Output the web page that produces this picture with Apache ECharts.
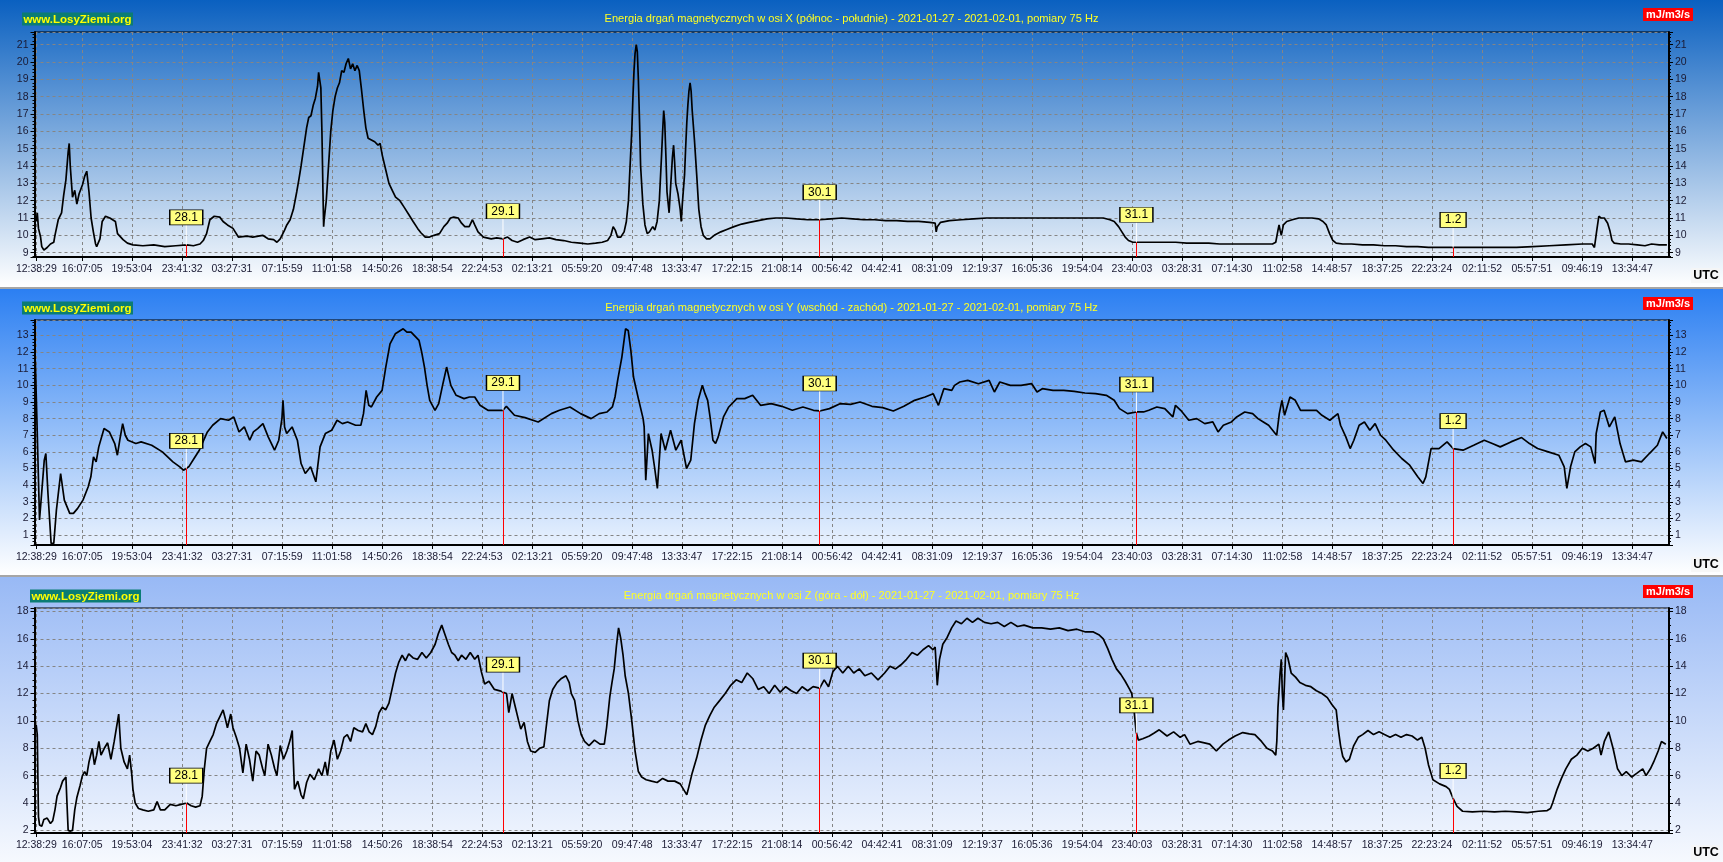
<!DOCTYPE html>
<html><head><meta charset="utf-8">
<script src="https://cdn.jsdelivr.net/npm/echarts@6/dist/echarts.min.js"></script>
<style>html,body{margin:0;padding:0;background:#fff;overflow:hidden}#c{width:1723px;height:862px}</style>
</head><body><div id="c"></div>
<script>
// ---------------- DATA ----------------
const timeLabels = ['12:38:29','16:07:05','19:53:04','23:41:32','03:27:31','07:15:59','11:01:58','14:50:26','18:38:54','22:24:53','02:13:21','05:59:20','09:47:48','13:33:47','17:22:15','21:08:14','00:56:42','04:42:41','08:31:09','12:19:37','16:05:36','19:54:04','23:40:03','03:28:31','07:14:30','11:02:58','14:48:57','18:37:25','22:23:24','02:11:52','05:57:51','09:46:19','13:34:47'];
const dayTimes = [24, 48, 72, 96, 120];           // hours since 2021-01-27 00:00 UTC
const dayLabels = ['28.1', '29.1', '30.1', '31.1', '1.2'];
const titles = [
  'Energia drgań magnetycznych w osi X (północ - południe) - 2021-01-27 - 2021-02-01, pomiary 75 Hz',
  'Energia drgań magnetycznych w osi Y (wschód - zachód) - 2021-01-27 - 2021-02-01, pomiary 75 Hz',
  'Energia drgań magnetycznych w osi Z (góra - dół) - 2021-01-27 - 2021-02-01, pomiary 75 Hz'
];
const siteLabel = 'www.LosyZiemi.org';
const unitLabel = 'mJ/m3/s';
const yMinArr = [8.75, 0.4, 1.81];
const yMaxArr = [21.73, 13.93, 18.25];
const yStepArr = [1, 1, 2];
const xMin = 12.5, xMax = 136.36;

// [hour since 27.01 00:00, value]
const seriesX = [[12.63,10.8],[12.71,11.3],[12.80,10.4],[12.96,9.9],[13.05,9.35],[13.21,9.15],[13.46,9.3],[13.71,9.5],[13.96,9.6],[14.05,10.0],[14.30,10.9],[14.55,11.3],[14.71,12.3],[14.88,13.2],[15.05,14.8],[15.13,15.3],[15.21,14.0],[15.38,12.2],[15.55,12.6],[15.71,11.8],[15.88,12.4],[16.13,12.9],[16.30,13.4],[16.46,13.7],[16.63,12.5],[16.79,11.0],[16.96,10.2],[17.13,9.5],[17.21,9.35],[17.46,9.8],[17.63,10.8],[17.88,11.1],[18.21,11.0],[18.63,10.8],[18.79,10.1],[19.21,9.75],[19.54,9.55],[19.96,9.45],[20.71,9.4],[21.54,9.45],[22.37,9.35],[23.21,9.4],[24.04,9.45],[24.54,9.4],[25.04,9.5],[25.29,9.7],[25.54,10.1],[25.79,10.9],[26.12,11.1],[26.54,11.05],[26.79,10.8],[27.12,10.6],[27.54,10.4],[27.95,9.9],[28.62,9.95],[29.04,9.9],[29.79,10.0],[30.20,9.8],[30.62,9.75],[30.87,9.6],[31.12,9.8],[31.45,10.3],[31.62,10.6],[31.87,10.9],[32.12,11.5],[32.37,12.5],[32.53,13.2],[32.70,14.0],[32.95,15.3],[33.12,16.2],[33.28,16.8],[33.45,16.9],[33.62,17.5],[33.78,17.9],[33.95,18.6],[34.03,19.4],[34.12,19.5],[34.20,18.5],[34.28,16.0],[34.36,12.5],[34.41,10.5],[34.45,10.9],[34.61,12.0],[34.78,14.0],[34.95,16.0],[35.11,17.2],[35.28,18.0],[35.45,18.5],[35.61,18.8],[35.78,19.5],[35.95,19.4],[36.11,19.9],[36.28,20.2],[36.45,19.6],[36.61,19.9],[36.78,19.5],[36.95,19.8],[37.11,19.5],[37.28,18.4],[37.45,17.2],[37.61,16.2],[37.78,15.6],[38.03,15.5],[38.28,15.4],[38.53,15.2],[38.69,15.3],[38.86,14.6],[39.11,13.8],[39.36,13.0],[39.61,12.6],[39.86,12.2],[40.19,12.0],[40.53,11.6],[40.86,11.2],[41.19,10.8],[41.53,10.4],[41.78,10.15],[42.11,9.9],[42.44,9.9],[42.78,10.0],[43.19,10.1],[43.52,10.5],[43.77,10.7],[44.02,11.0],[44.27,11.05],[44.61,11.0],[44.86,10.7],[45.11,10.5],[45.44,10.5],[45.69,10.9],[45.86,10.6],[46.11,10.2],[46.52,9.9],[47.11,9.8],[47.52,9.85],[48.02,9.8],[48.35,9.9],[48.69,9.7],[49.10,9.6],[49.52,9.75],[50.02,9.9],[50.44,9.75],[50.94,9.8],[51.52,9.85],[52.02,9.75],[52.60,9.7],[53.18,9.6],[53.85,9.55],[54.43,9.5],[55.02,9.55],[55.52,9.6],[55.93,9.7],[56.18,10.0],[56.35,10.5],[56.51,10.3],[56.68,9.9],[56.93,9.9],[57.18,10.2],[57.35,10.8],[57.51,12.0],[57.60,13.5],[57.76,16.0],[57.85,18.0],[57.93,19.5],[58.01,20.5],[58.10,21.0],[58.18,20.6],[58.26,19.0],[58.35,16.5],[58.43,14.0],[58.60,11.8],[58.76,10.6],[58.93,10.1],[59.10,10.2],[59.35,10.5],[59.51,10.3],[59.68,10.8],[59.85,12.0],[60.01,14.5],[60.10,16.0],[60.18,17.2],[60.26,16.5],[60.35,14.5],[60.43,12.5],[60.59,11.3],[60.68,12.5],[60.84,14.5],[60.93,15.2],[61.01,14.2],[61.09,13.0],[61.26,12.4],[61.43,11.5],[61.51,10.8],[61.59,11.8],[61.76,13.5],[61.84,15.0],[61.93,16.5],[62.01,17.5],[62.09,18.3],[62.18,18.8],[62.26,18.3],[62.34,17.2],[62.51,15.5],[62.68,13.5],[62.84,11.5],[63.01,10.5],[63.18,10.0],[63.43,9.8],[63.68,9.8],[64.01,10.0],[64.51,10.2],[65.01,10.35],[65.51,10.5],[66.09,10.65],[66.67,10.75],[67.34,10.85],[68.01,10.95],[68.67,11.0],[69.42,11.0],[70.25,10.95],[71.09,10.9],[72.00,10.9],[72.84,10.95],[73.67,11.0],[74.50,10.95],[75.33,10.9],[76.17,10.9],[77.00,10.85],[77.83,10.85],[78.66,10.8],[79.50,10.8],[80.33,10.75],[80.75,10.7],[80.83,10.2],[80.91,10.5],[81.16,10.75],[81.83,10.85],[82.74,10.9],[83.66,10.95],[84.66,11.0],[85.66,11.0],[86.66,11.0],[87.66,11.0],[88.66,11.0],[89.66,11.0],[90.66,11.0],[91.65,11.0],[92.65,11.0],[93.49,11.0],[93.99,10.9],[94.32,10.8],[94.65,10.5],[94.90,10.2],[95.15,9.9],[95.40,9.7],[95.73,9.6],[96.48,9.6],[97.32,9.6],[98.15,9.6],[98.98,9.6],[99.81,9.55],[100.65,9.55],[101.48,9.55],[102.31,9.5],[103.15,9.5],[103.98,9.5],[104.81,9.5],[105.64,9.5],[106.31,9.5],[106.56,9.6],[106.73,10.3],[106.81,10.6],[106.89,10.3],[106.98,10.0],[107.14,10.6],[107.39,10.8],[107.81,10.9],[108.31,11.0],[108.81,11.0],[109.31,11.0],[109.81,10.95],[110.14,10.8],[110.39,10.6],[110.64,10.1],[110.89,9.7],[111.14,9.55],[111.64,9.5],[112.31,9.5],[113.14,9.45],[113.97,9.45],[114.80,9.4],[115.64,9.4],[116.47,9.35],[117.30,9.35],[118.13,9.3],[118.97,9.3],[119.97,9.3],[121.05,9.3],[122.30,9.3],[123.55,9.3],[124.80,9.3],[126.04,9.35],[127.29,9.4],[128.54,9.45],[129.79,9.5],[130.54,9.5],[130.71,9.3],[130.87,10.2],[131.04,11.1],[131.21,11.0],[131.46,11.0],[131.71,10.7],[131.87,10.3],[132.04,9.7],[132.21,9.55],[132.71,9.5],[133.29,9.5],[133.96,9.45],[134.54,9.4],[135.04,9.5],[135.62,9.45],[136.20,9.45]];

const seriesY = [[12.56,11.5],[12.68,8.0],[12.88,1.9],[13.04,3.5],[13.24,5.5],[13.36,5.9],[13.52,3.5],[13.76,0.5],[13.96,0.5],[14.16,2.5],[14.48,4.7],[14.76,3.1],[15.17,2.3],[15.45,2.3],[15.77,2.6],[16.17,3.1],[16.57,3.9],[16.77,4.5],[16.97,5.7],[17.17,5.4],[17.37,6.3],[17.77,7.4],[18.17,7.2],[18.58,6.5],[18.78,5.8],[18.98,6.8],[19.18,7.7],[19.38,7.0],[19.58,6.7],[20.18,6.5],[20.58,6.6],[21.38,6.4],[22.19,6.0],[22.99,5.4],[23.51,5.1],[23.79,4.9],[24.19,5.1],[24.59,5.6],[24.99,6.1],[25.60,7.2],[26.00,7.6],[26.60,8.0],[27.20,7.9],[27.60,8.1],[28.00,7.2],[28.40,7.5],[28.81,6.7],[29.09,7.2],[29.41,7.4],[29.81,7.7],[30.21,6.9],[30.69,6.1],[31.01,6.7],[31.25,8.0],[31.33,9.1],[31.45,7.5],[31.61,7.1],[32.02,7.5],[32.42,6.7],[32.70,5.3],[33.02,4.7],[33.42,5.1],[33.82,4.2],[34.14,6.3],[34.54,7.1],[35.02,7.3],[35.43,7.9],[35.83,7.7],[36.23,7.8],[36.83,7.6],[37.23,7.6],[37.43,8.3],[37.63,9.7],[37.83,8.8],[38.03,8.7],[38.43,9.3],[38.84,9.7],[39.12,11.1],[39.44,12.5],[39.84,13.1],[40.44,13.4],[40.72,13.2],[41.04,13.2],[41.64,12.7],[41.84,12.0],[42.05,11.1],[42.25,10.0],[42.45,9.1],[42.85,8.5],[43.13,8.9],[43.45,10.1],[43.73,11.1],[44.05,10.0],[44.45,9.4],[45.05,9.2],[45.46,9.3],[45.86,9.3],[46.26,8.8],[46.86,8.5],[47.46,8.5],[48.0,8.5],[48.26,8.74],[48.87,8.2],[49.67,8.06],[50.67,7.8],[51.67,8.3],[52.28,8.5],[53.08,8.7],[53.88,8.3],[54.68,8.0],[55.29,8.3],[55.89,8.4],[56.29,8.7],[56.49,9.3],[56.69,10.3],[57.01,11.7],[57.29,13.4],[57.49,13.3],[57.69,12.1],[57.89,10.5],[58.29,9.1],[58.62,8.0],[58.70,7.5],[58.82,4.3],[59.02,7.1],[59.30,6.1],[59.50,5.0],[59.70,3.8],[59.98,7.1],[60.30,6.1],[60.70,7.3],[61.10,6.1],[61.50,6.7],[61.91,5.0],[62.23,5.5],[62.51,7.7],[62.79,9.1],[63.11,10.0],[63.31,9.5],[63.51,9.1],[63.71,8.0],[63.91,6.7],[64.11,6.5],[64.31,6.9],[64.71,8.1],[65.11,8.7],[65.72,9.2],[66.32,9.2],[66.92,9.4],[67.52,8.8],[68.32,8.9],[69.13,8.74],[69.93,8.5],[70.73,8.7],[71.53,8.5],[72.0,8.46],[72.74,8.6],[73.54,8.9],[74.34,8.86],[75.06,9.0],[75.96,8.74],[76.77,8.66],[77.58,8.46],[78.38,8.74],[79.19,9.1],[79.99,9.3],[80.60,9.5],[81.00,8.8],[81.41,9.8],[82.01,9.7],[82.22,10.0],[82.62,10.2],[83.22,10.3],[84.03,10.1],[84.84,10.3],[85.24,9.6],[85.65,10.2],[86.45,10.0],[87.26,10.0],[88.07,10.1],[88.47,9.6],[88.87,9.8],[89.68,9.7],[90.49,9.7],[91.29,9.64],[92.10,9.54],[92.91,9.5],[93.72,9.4],[94.32,9.1],[94.72,8.6],[95.33,8.3],[96.0,8.4],[96.54,8.4],[96.94,8.5],[97.55,8.7],[98.15,8.6],[98.76,8.1],[98.96,8.8],[99.36,8.5],[99.97,7.9],[100.57,8.0],[101.18,7.7],[101.79,7.8],[102.19,7.2],[102.59,7.6],[103.20,7.8],[103.60,8.1],[104.21,8.4],[104.81,8.3],[105.21,8.0],[105.62,7.8],[106.02,7.6],[106.43,7.2],[106.63,7.0],[106.83,8.3],[107.03,9.1],[107.23,8.2],[107.64,9.3],[108.04,9.1],[108.44,8.5],[109.05,8.5],[109.65,8.5],[110.06,8.2],[110.66,7.9],[111.27,8.3],[111.47,7.6],[111.87,6.9],[112.20,6.2],[112.48,6.7],[112.88,7.6],[113.28,7.8],[113.69,7.3],[114.09,7.7],[114.50,7.0],[114.90,6.7],[115.50,6.1],[116.11,5.6],[116.71,5.2],[117.32,4.5],[117.72,4.1],[117.93,4.5],[118.33,6.2],[118.93,6.2],[119.54,6.6],[120.0,6.2],[120.75,6.1],[121.56,6.4],[122.36,6.7],[122.97,6.5],[123.57,6.3],[124.38,6.6],[125.19,6.86],[125.79,6.5],[126.40,6.2],[127.21,6.0],[128.01,5.8],[128.42,5.1],[128.62,3.8],[128.90,5.1],[129.22,6.0],[129.63,6.3],[130.03,6.5],[130.43,6.3],[130.76,5.3],[130.84,7.1],[131.16,8.4],[131.44,8.5],[131.84,7.5],[132.25,8.1],[132.65,6.5],[133.06,5.4],[133.66,5.5],[134.27,5.4],[134.87,5.9],[135.48,6.4],[135.88,7.2],[136.20,6.8]];

const seriesZ = [[12.63,9.7],[12.71,9.0],[12.80,3.0],[12.88,2.4],[13.05,2.3],[13.21,2.8],[13.46,2.9],[13.71,2.5],[13.88,2.7],[14.05,3.5],[14.21,4.5],[14.46,5.1],[14.63,5.6],[14.88,5.9],[14.96,4.0],[15.05,2.0],[15.21,1.95],[15.38,2.0],[15.55,3.5],[15.71,4.4],[15.96,5.3],[16.13,6.0],[16.30,6.3],[16.46,6.0],[16.63,7.0],[16.88,8.0],[17.04,6.8],[17.21,7.5],[17.38,8.5],[17.54,7.5],[17.79,8.0],[18.04,8.4],[18.29,7.2],[18.54,8.5],[18.71,9.5],[18.88,10.5],[19.04,8.0],[19.29,7.0],[19.54,6.5],[19.71,7.5],[19.88,6.0],[19.96,5.0],[20.13,4.0],[20.38,3.6],[20.71,3.5],[21.12,3.4],[21.54,3.5],[21.79,4.1],[22.04,3.5],[22.37,3.5],[22.79,3.9],[23.21,3.8],[23.62,3.9],[24.04,4.0],[24.37,3.8],[24.71,3.7],[25.04,3.8],[25.21,4.5],[25.37,6.5],[25.54,8.0],[25.79,8.5],[26.04,9.0],[26.29,9.8],[26.54,10.3],[26.79,10.8],[26.95,10.2],[27.12,9.5],[27.37,10.5],[27.54,9.5],[27.79,8.8],[28.04,8.0],[28.29,6.2],[28.54,8.3],[28.79,7.2],[29.04,5.6],[29.29,7.8],[29.53,7.5],[29.79,6.5],[29.95,6.0],[30.20,8.3],[30.45,7.5],[30.70,6.5],[30.87,6.0],[31.12,8.2],[31.37,7.2],[31.62,7.8],[31.87,8.6],[32.03,9.3],[32.12,7.0],[32.20,5.0],[32.45,5.6],[32.70,4.6],[32.87,4.3],[33.12,5.5],[33.37,6.1],[33.70,5.7],[34.03,6.5],[34.28,6.0],[34.53,7.0],[34.70,6.0],[34.95,7.8],[35.20,8.6],[35.45,7.2],[35.70,7.8],[35.95,8.8],[36.20,9.0],[36.45,8.5],[36.70,9.5],[37.03,9.3],[37.36,9.2],[37.61,9.8],[37.86,9.2],[38.11,9.0],[38.36,9.6],[38.61,10.6],[38.86,11.0],[39.11,10.8],[39.36,11.3],[39.61,12.4],[39.86,13.5],[40.11,14.3],[40.36,14.8],[40.61,14.4],[40.86,14.9],[41.19,14.6],[41.53,14.5],[41.86,15.0],[42.19,14.6],[42.53,15.0],[42.86,15.6],[43.11,16.4],[43.36,17.0],[43.61,16.3],[43.86,15.6],[44.11,15.0],[44.36,14.8],[44.61,14.4],[44.86,14.8],[45.19,14.5],[45.52,15.0],[45.86,14.5],[46.11,14.8],[46.36,13.6],[46.61,12.7],[46.94,12.9],[47.35,12.3],[47.77,12.2],[48.02,12.1],[48.27,12.0],[48.44,10.6],[48.69,12.0],[48.94,11.0],[49.19,10.0],[49.35,9.4],[49.60,9.9],[49.85,8.5],[50.10,7.8],[50.44,7.7],[50.77,8.0],[51.10,8.1],[51.27,9.5],[51.52,11.5],[51.77,12.3],[52.10,12.8],[52.43,13.1],[52.77,13.3],[53.02,12.8],[53.18,12.0],[53.43,11.5],[53.68,10.0],[53.93,9.0],[54.18,8.5],[54.52,8.2],[54.93,8.6],[55.35,8.3],[55.68,8.3],[55.85,9.5],[56.10,11.8],[56.26,12.8],[56.43,13.8],[56.60,15.5],[56.76,16.8],[56.93,16.0],[57.10,14.8],[57.26,13.3],[57.51,12.0],[57.76,10.0],[58.01,7.8],[58.26,6.3],[58.51,5.9],[58.85,5.7],[59.26,5.6],[59.68,5.5],[60.10,5.8],[60.51,5.6],[61.01,5.6],[61.43,5.4],[61.68,5.0],[61.93,4.6],[62.09,5.2],[62.34,6.2],[62.68,7.3],[63.01,8.6],[63.34,9.7],[63.68,10.4],[64.01,11.0],[64.43,11.5],[64.84,12.0],[65.26,12.6],[65.67,13.0],[66.09,12.8],[66.51,13.5],[66.92,13.1],[67.34,12.3],[67.76,12.5],[68.17,12.0],[68.59,12.6],[69.01,12.1],[69.42,12.5],[69.84,12.2],[70.25,12.0],[70.67,12.5],[71.09,12.2],[71.50,12.5],[72.00,12.4],[72.34,13.0],[72.67,12.5],[73.00,13.6],[73.34,14.0],[73.75,13.5],[74.17,14.0],[74.58,13.5],[75.00,13.8],[75.42,13.3],[75.92,13.5],[76.42,13.0],[76.92,13.5],[77.33,14.0],[77.75,13.8],[78.16,14.1],[78.58,14.5],[79.00,15.0],[79.41,14.8],[79.83,15.2],[80.25,15.5],[80.58,15.2],[80.75,15.4],[80.91,12.6],[81.08,14.5],[81.33,15.6],[81.66,16.1],[82.00,16.8],[82.33,17.3],[82.74,17.1],[83.16,17.5],[83.58,17.2],[83.99,17.5],[84.49,17.2],[84.99,17.1],[85.49,17.2],[85.99,16.9],[86.49,17.2],[86.99,16.9],[87.49,17.0],[88.16,16.8],[88.82,16.8],[89.49,16.7],[90.16,16.8],[90.82,16.6],[91.49,16.7],[92.15,16.5],[92.74,16.5],[93.15,16.3],[93.49,16.0],[93.82,15.3],[94.15,14.5],[94.49,13.8],[94.82,13.4],[95.15,12.9],[95.49,12.3],[95.65,12.0],[95.82,10.8],[95.98,9.2],[96.15,8.6],[96.48,8.7],[96.98,8.9],[97.32,9.1],[97.73,9.35],[98.32,8.9],[98.82,9.2],[99.32,8.8],[99.65,9.0],[100.06,8.3],[100.65,8.5],[101.15,8.4],[101.56,8.3],[102.06,7.8],[102.56,8.3],[102.98,8.6],[103.48,8.9],[104.06,9.15],[104.56,9.05],[104.98,9.0],[105.48,8.5],[105.89,8.0],[106.31,7.8],[106.56,7.5],[106.64,8.5],[106.73,11.0],[106.89,13.5],[106.98,14.5],[107.06,12.0],[107.14,10.8],[107.23,13.0],[107.31,15.0],[107.48,14.6],[107.73,13.5],[108.06,13.2],[108.39,12.8],[108.81,12.6],[109.22,12.5],[109.64,12.2],[110.06,12.0],[110.47,11.7],[110.81,11.2],[111.14,10.8],[111.31,9.3],[111.47,8.2],[111.64,7.4],[111.89,7.0],[112.14,7.2],[112.47,8.2],[112.81,8.8],[113.14,9.0],[113.55,9.3],[113.97,9.0],[114.39,9.2],[114.80,9.0],[115.22,8.8],[115.64,9.0],[116.05,8.8],[116.47,9.0],[116.89,8.9],[117.30,8.6],[117.63,8.8],[117.88,8.0],[118.13,6.8],[118.47,5.7],[118.97,5.4],[119.47,5.2],[119.72,5.0],[119.97,4.4],[120.30,3.75],[120.72,3.4],[121.46,3.35],[122.30,3.4],[123.13,3.35],[123.96,3.4],[124.80,3.35],[125.63,3.3],[126.46,3.4],[127.13,3.45],[127.38,3.6],[127.54,4.0],[127.88,5.0],[128.21,5.8],[128.54,6.5],[128.96,7.2],[129.38,7.5],[129.79,8.0],[130.21,7.8],[130.62,8.0],[131.04,8.3],[131.21,7.5],[131.46,8.5],[131.79,9.2],[132.12,8.0],[132.46,6.5],[132.79,6.0],[133.12,6.3],[133.54,5.9],[133.96,6.2],[134.37,6.5],[134.62,6.0],[134.95,6.5],[135.20,7.0],[135.54,7.8],[135.79,8.5],[136.12,8.3]];

const allSeries = [seriesX, seriesY, seriesZ];

// ---------------- HELPERS ----------------
const labelHours = [];
(function () {
  let day = 0, prev = -1;
  timeLabels.forEach(s => {
    const p = s.split(':').map(Number);
    const h = p[0] + p[1] / 60 + p[2] / 3600;
    if (prev >= 0 && h < prev) day += 24;
    prev = h;
    labelHours.push(+(h + day).toFixed(5));
  });
})();
function fmtTime(v) {
  for (let i = 0; i < labelHours.length; i++) if (Math.abs(labelHours[i] - v) < 1e-4) return timeLabels[i];
  return '';
}
function valueAt(d, t) {
  for (let i = 1; i < d.length; i++) {
    if (d[i][0] >= t) {
      const a = d[i - 1], b = d[i];
      return a[1] + (b[1] - a[1]) * (t - a[0]) / (b[0] - a[0]);
    }
  }
  return d[d.length - 1][1];
}
const mctx = document.createElement('canvas').getContext('2d');
function tw(font, s) { mctx.font = font; return mctx.measureText(s).width; }
let titleFam = '"Liberation Sans Narrow"';
if (Math.abs(tw('20px "Liberation Sans Narrow", monospace', titles[0]) - tw('20px monospace', titles[0])) < 1) titleFam = '"Liberation Sans"';
const titleSize = 20 * 494 / tw('20px ' + titleFam, titles[0]);

// ---------------- LAYOUT ----------------
const W = 1723, H = 862;
const panelTop = [0, 289, 577];
const gridTop = [32, 320, 608];
const gridH = 225, gridLeft = 34.5, gridRight = 54;
const bgTop = ['#0a60c0', '#2b7ff2', '#98b9f5'];
const bgBot = ['#ffffff', '#ffffff', '#f6f9fe'];
const bannerX = [22, 22, 30];
const labelColor = '#1a1a33';

const grids = [], xAxes = [], yAxes = [], series = [], graphics = [];
for (let i = 0; i < 3; i++) {
  const oy = panelTop[i];
  const ph = (i < 2 ? panelTop[i + 1] - 2 : H) - oy;
  graphics.push({ type: 'rect', z: -100, silent: true, shape: { x: 0, y: oy, width: W, height: ph },
    style: { fill: new echarts.graphic.LinearGradient(0, 0, 0, 1, [{ offset: 0, color: bgTop[i] }, { offset: 1, color: bgBot[i] }]) } });
  if (i < 2) graphics.push({ type: 'rect', z: -99, silent: true, shape: { x: 0, y: oy + ph, width: W, height: 2 }, style: { fill: '#a6a6a6' } });
  graphics.push({ type: 'rect', z: 50, silent: true, shape: { x: bannerX[i], y: oy + 12.5, width: 111, height: 13 }, style: { fill: '#0b7c74' } });
  graphics.push({ type: 'text', z: 51, silent: true, style: { text: siteLabel, x: bannerX[i] + 55.5, y: oy + 19.5, align: 'center', verticalAlign: 'middle', fill: '#ffff00', font: 'bold 11.5px "Liberation Sans", Arial, sans-serif' } });
  graphics.push({ type: 'text', z: 51, silent: true, style: { text: titles[i], x: 851.5, y: oy + 18.5, align: 'center', verticalAlign: 'middle', fill: '#ffff22', font: titleSize.toFixed(2) + 'px ' + titleFam + ', sans-serif' } });
  graphics.push({ type: 'rect', z: 50, silent: true, shape: { x: 1643, y: oy + 8, width: 50, height: 13 }, style: { fill: '#ff0000' } });
  graphics.push({ type: 'text', z: 51, silent: true, style: { text: unitLabel, x: 1668, y: oy + 14.7, align: 'center', verticalAlign: 'middle', fill: '#ffffff', font: 'bold 11px "Liberation Sans", Arial, sans-serif' } });
  graphics.push({ type: 'rect', z: 50, silent: true, shape: { x: 1691, y: oy + 268, width: 29, height: 15 }, style: { fill: 'rgba(245,245,245,0.8)' } });
  graphics.push({ type: 'text', z: 51, silent: true, style: { text: 'UTC', x: 1706, y: oy + 276, align: 'center', verticalAlign: 'middle', fill: '#000', font: 'bold 12.5px "Liberation Sans", Arial, sans-serif' } });

  grids.push({ left: gridLeft, right: gridRight, top: gridTop[i], height: gridH, show: true, borderColor: '#000', borderWidth: 1, backgroundColor: 'transparent', containLabel: false });

  xAxes.push({
    gridIndex: i, type: 'value', min: xMin, max: xMax,
    axisLine: { show: true, onZero: false, lineStyle: { color: '#000', width: 2 } },
    axisTick: { show: true, customValues: labelHours, length: 4, lineStyle: { color: '#000' } },
    axisLabel: { show: true, customValues: labelHours, formatter: fmtTime, color: labelColor, fontSize: 10.5, fontFamily: '"Liberation Sans", Arial, sans-serif', margin: 7, hideOverlap: false },
    splitLine: { show: true, lineStyle: { color: '#858585', type: [3, 3], width: 1 } }
  });

  const step = yStepArr[i];
  const yfmt = v => (Math.abs(v / step - Math.round(v / step)) < 1e-6 ? String(Math.round(v)) : '');
  ['left', 'right'].forEach((pos, k) => {
    yAxes.push({
      gridIndex: i, type: 'value', position: pos, min: yMinArr[i], max: yMaxArr[i], minInterval: step, maxInterval: step,
      axisLine: { show: true, onZero: false, lineStyle: { color: '#000', width: 2 } },
      axisTick: { show: true, length: 4, lineStyle: { color: '#000' } },
      minorTick: { show: true, splitNumber: i === 2 ? 4 : 5, length: 2, lineStyle: { color: '#000' } },
      axisLabel: { formatter: yfmt, color: labelColor, fontSize: 10.5, fontFamily: '"Liberation Sans", Arial, sans-serif', margin: 6 },
      splitLine: { show: k === 0, lineStyle: { color: '#858585', type: [3, 3], width: 1 } }
    });
  });

  const d = allSeries[i];
  const mlData = [], mpData = [];
  dayTimes.forEach((t, j) => {
    const v = valueAt(d, t);
    mlData.push([{ coord: [t, yMinArr[i]] }, { coord: [t, v] }]);
    mpData.push({ coord: [t, v], symbol: 'rect', symbolSize: [1, 20], symbolOffset: [0, -10], itemStyle: { color: '#ffffff' }, label: { show: false } });
    const bw = dayLabels[j].length > 3 ? 33 : 26;
    mpData.push({ coord: [t, v], symbol: 'rect', symbolSize: [bw, 15], symbolOffset: [0, -27.5],
      itemStyle: { color: '#ffff80', borderColor: '#000', borderWidth: 1 },
      label: { show: true, position: 'inside', formatter: dayLabels[j], color: '#000', fontSize: 12, fontFamily: '"Liberation Sans", Arial, sans-serif' } });
  });

  series.push({
    type: 'line', xAxisIndex: i, yAxisIndex: 2 * i, data: d, showSymbol: false, symbol: 'none',
    lineStyle: { color: '#000', width: 1.7 }, animation: false, silent: true, clip: true,
    markLine: { silent: true, animation: false, symbol: ['none', 'none'], label: { show: false },
      lineStyle: { color: '#ff0000', width: 1, type: 'solid' }, emphasis: { disabled: true }, data: mlData },
    markPoint: { silent: true, animation: false, data: mpData }
  });
}

const chart = echarts.init(document.getElementById('c'), null, { renderer: 'canvas' });
chart.setOption({
  animation: false,
  backgroundColor: '#ffffff',
  grid: grids, xAxis: xAxes, yAxis: yAxes, series: series,
  graphic: { elements: graphics }
});
</script>
</body></html>
